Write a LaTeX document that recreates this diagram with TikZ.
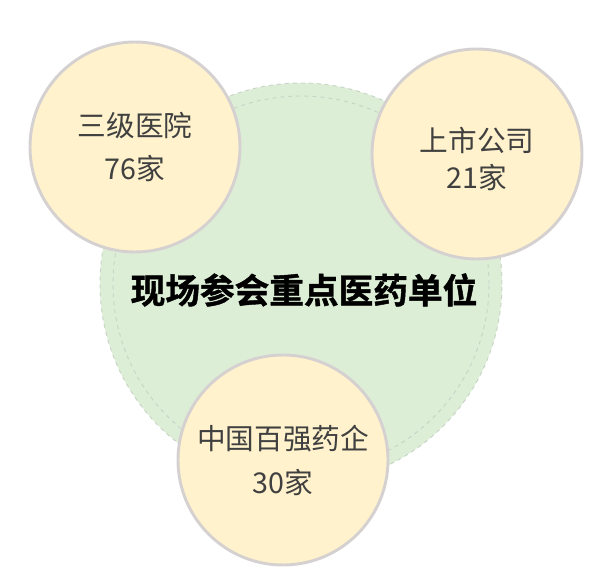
\documentclass[tikz,border=0pt]{standalone}
\usepackage{fontspec}
\setmainfont{Noto Sans CJK SC}
\newfontfamily\titlefont{Noto Sans CJK SC}[UprightFont=* Bold,FakeBold=1.2]
\usetikzlibrary{positioning}
\definecolor{ringgreen}{RGB}{221,238,215}
\definecolor{ringdash}{RGB}{200,212,198}
\definecolor{bubblefill}{RGB}{255,242,204}
\definecolor{bubbleedge}{RGB}{214,209,209}
\definecolor{bubbletext}{RGB}{64,64,64}

\begin{document}
\begin{tikzpicture}[x=0.75pt,y=-0.75pt,
    ring/.style={circle,draw=ringdash,dashed,line width=0.7pt,inner sep=0pt},
    bubble/.style={circle,draw=bubbleedge,line width=2.2pt,fill=bubblefill,
      minimum size=157.5pt,inner sep=0pt,align=center,text=bubbletext}]
  \useasboundingbox (0,0) rectangle (603,577);
  % green base
  \node[ring,fill=ringgreen,minimum size=301.5pt] (outer) at (301,284) {};
  \node[ring,minimum size=282pt] (inner) at (301,284) {};
  \node[font=\titlefont\fontsize{26}{30}\selectfont] (title) at (304,290) {现场参会重点医药单位};
  % bubbles
  \node[bubble,font=\fontsize{21.5}{32}\selectfont] (hospital) at (135,147) {三级医院\\76家};
  \node[bubble,font=\fontsize{21.5}{28}\selectfont,text height=54pt] (listed) at (477,154) {上市公司\\21家};
  \node[bubble,font=\fontsize{21.5}{33}\selectfont] (pharma) at (283,460) {中国百强药企\\30家};
\end{tikzpicture}
\end{document}
